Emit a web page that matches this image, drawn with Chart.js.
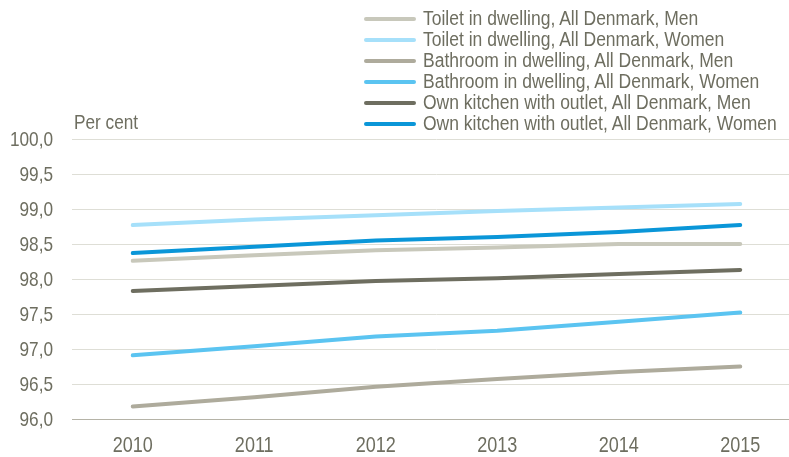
<!DOCTYPE html>
<html>
<head>
<meta charset="utf-8">
<script src="https://cdn.jsdelivr.net/npm/chart.js@4.4.1/dist/chart.umd.min.js"></script>
<style>
  html, body { margin: 0; padding: 0; background: #fff; overflow: hidden; }
  body { width: 789px; height: 457px; position: relative; }
  #wrap { position: absolute; left: 0; top: 0; width: 801px; height: 457px; }
  .txt { font-family: "Liberation Sans", Arial, sans-serif; color: #6e6e60; }
  .narrow { display: inline-block; transform: scaleX(0.82); transform-origin: 0 50%; white-space: nowrap; }
  #legend { position: absolute; left: 362px; top: 8px; font-size: 20px; line-height: 21px; }
  #legend .row { display: flex; align-items: center; white-space: nowrap; height: 21px; }
  #legend .narrow { transform: scaleX(0.875); }
  #legend .swatch { width: 52px; height: 4px; border-radius: 2px; margin: 0 7px 0 2px; flex: none; }
  #unit { position: absolute; left: 74px; top: 110px; font-size: 21px; line-height: 24px; }
</style>
</head>
<body>
<div id="wrap"><canvas id="chart"></canvas></div>
<div id="unit" class="txt"><span class="narrow">Per cent</span></div>
<div id="legend" class="txt"></div>
<script>
// --- dados ---
const anos = ['2010', '2011', '2012', '2013', '2014', '2015'];
const toiletMen = [98.26, 98.34, 98.41, 98.45, 98.50, 98.50];
const toiletWomen = [98.77, 98.85, 98.91, 98.97, 99.02, 99.07];
const bathMen = [96.18, 96.31, 96.46, 96.57, 96.67, 96.75];
const bathWomen = [96.91, 97.04, 97.18, 97.26, 97.39, 97.52];
const kitchenMen = [97.83, 97.90, 97.97, 98.01, 98.07, 98.13];
const kitchenWomen = [98.37, 98.46, 98.55, 98.60, 98.67, 98.77];
const yTicks = [96.0, 96.5, 97.0, 97.5, 98.0, 98.5, 99.0, 99.5, 100.0];

const series = [
  { label: 'Toilet in dwelling, All Denmark, Men', data: toiletMen, color: '#c8c8bb' },
  { label: 'Toilet in dwelling, All Denmark, Women', data: toiletWomen, color: '#a6e0fa' },
  { label: 'Bathroom in dwelling, All Denmark, Men', data: bathMen, color: '#aeab9c' },
  { label: 'Bathroom in dwelling, All Denmark, Women', data: bathWomen, color: '#5bc4f1' },
  { label: 'Own kitchen with outlet, All Denmark, Men', data: kitchenMen, color: '#6e6e60' },
  { label: 'Own kitchen with outlet, All Denmark, Women', data: kitchenWomen, color: '#0a96d8' }
];

const fonte = "'Liberation Sans', Arial, sans-serif";
const corTexto = '#6e6e60';
const estreito = 0.82; // simula Arial Narrow

// legenda em HTML
const legend = document.getElementById('legend');
series.forEach(s => {
  const row = document.createElement('div');
  row.className = 'row';
  row.innerHTML = `<span class="swatch" style="background:${s.color}"></span><span class="narrow">${s.label}</span>`;
  legend.appendChild(row);
});

const fmt = v => v.toFixed(1).replace('.', ',');

// rótulos dos eixos desenhados com fonte comprimida
const rotulosEstreitos = {
  id: 'rotulosEstreitos',
  afterDraw(chart) {
    const c = chart.ctx;
    const sx = chart.scales.x, sy = chart.scales.y;
    c.save();
    c.fillStyle = corTexto;
    c.textBaseline = 'middle';
    c.font = `21px ${fonte}`;
    c.textAlign = 'right';
    yTicks.forEach(v => {
      const y = sy.getPixelForValue(v);
      c.save();
      c.translate(53, y + 1);
      c.scale(estreito, 1);
      c.fillText(fmt(v), 0, 0);
      c.restore();
    });
    c.font = `22px ${fonte}`;
    c.textAlign = 'center';
    anos.forEach((a, i) => {
      const x = sx.getPixelForTick(i);
      c.save();
      c.translate(x, 446);
      c.scale(estreito, 1);
      c.fillText(a, 0, 0);
      c.restore();
    });
    c.restore();
  }
};

const ctx = document.getElementById('chart').getContext('2d');
new Chart(ctx, {
  type: 'line',
  data: {
    labels: anos,
    datasets: series.map(s => ({
      label: s.label,
      data: s.data,
      borderColor: s.color,
      backgroundColor: s.color,
      borderWidth: 4,
      borderCapStyle: 'round',
      borderJoinStyle: 'round',
      pointRadius: 0,
      tension: 0,
      fill: false
    }))
  },
  options: {
    responsive: true,
    maintainAspectRatio: false,
    animation: false,
    layout: { padding: { top: 139, right: 0, bottom: 0, left: 0 } },
    plugins: { legend: { display: false }, tooltip: { enabled: false } },
    scales: {
      x: {
        offset: true,
        grid: { display: false, drawTicks: false },
        border: { display: true, color: '#b5b3a7', width: 1 },
        ticks: { display: false },
        afterFit: s => { s.height = 38; }
      },
      y: {
        min: 96,
        max: 100,
        afterBuildTicks: s => { s.ticks = yTicks.map(v => ({ value: v })); },
        grid: {
          drawTicks: false,
          color: c => (c.tick && c.tick.value === 96 ? '#b5b3a7' : '#deded6'),
          lineWidth: 1
        },
        border: { display: false },
        ticks: { display: false },
        afterFit: s => { s.width = 72; }
      }
    }
  },
  plugins: [rotulosEstreitos]
});
</script>
</body>
</html>
